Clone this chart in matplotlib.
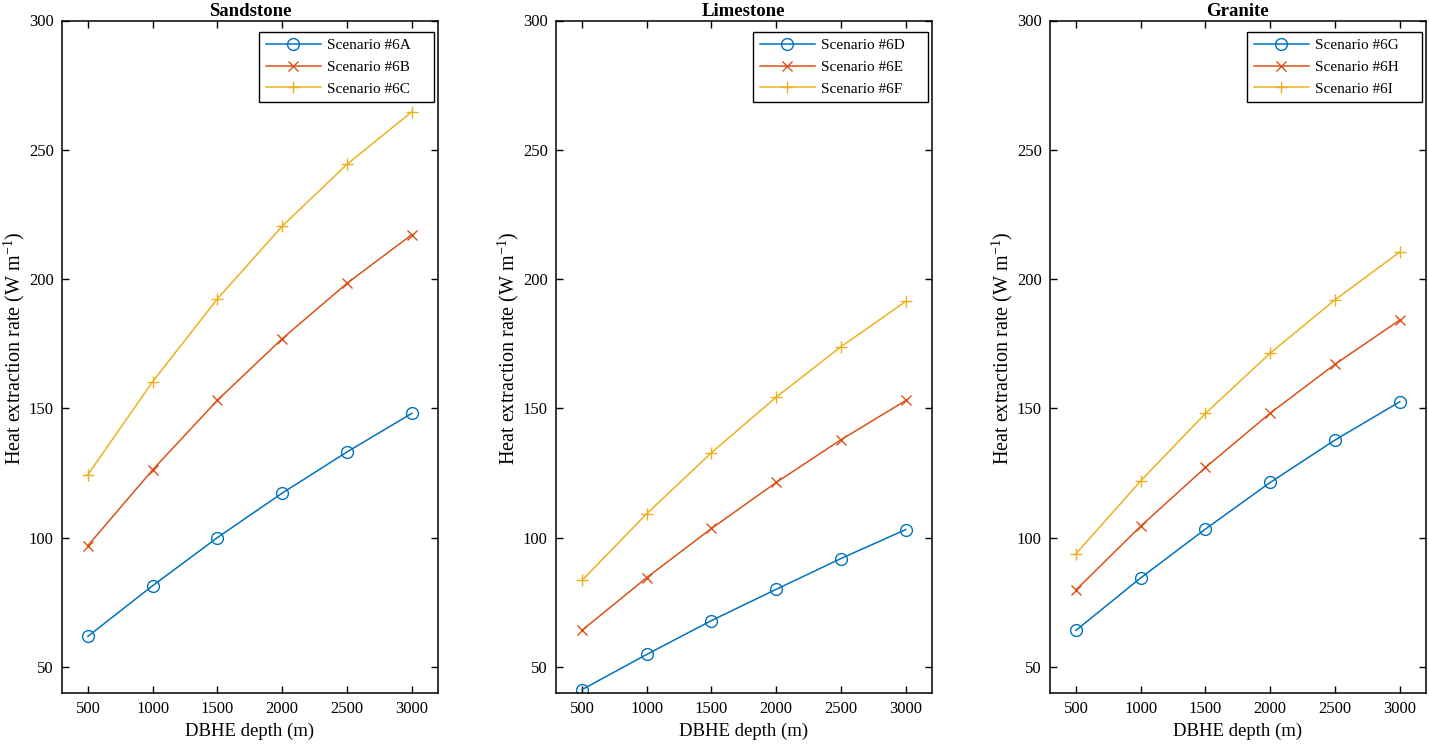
import matplotlib
matplotlib.use("Agg")
import matplotlib.pyplot as plt

plt.rcParams['font.family'] = ['Liberation Serif', 'DejaVu Serif']
plt.rcParams['mathtext.fontset'] = 'custom'
plt.rcParams['mathtext.rm'] = 'Liberation Serif'
plt.rcParams['mathtext.it'] = 'Liberation Serif:italic'
plt.rcParams['mathtext.default'] = 'regular'

depth = [500, 1000, 1500, 2000, 2500, 3000]

titles = ["Sandstone", "Limestone", "Granite"]

sandstone_labels = ["Scenario #6A", "Scenario #6B", "Scenario #6C"]
sandstone_6A = [61.9, 81.5, 100.1, 117.3, 133.2, 148.1]
sandstone_6B = [97.0, 126.3, 153.2, 177.0, 198.4, 217.2]
sandstone_6C = [124.4, 160.4, 192.4, 220.5, 244.4, 264.7]

limestone_labels = ["Scenario #6D", "Scenario #6E", "Scenario #6F"]
limestone_6D = [41.3, 54.9, 68.0, 80.1, 92.0, 103.2]
limestone_6E = [64.2, 84.6, 103.6, 121.4, 137.9, 153.1]
limestone_6F = [83.5, 109.3, 132.9, 154.4, 173.9, 191.4]

granite_labels = ["Scenario #6G", "Scenario #6H", "Scenario #6I"]
granite_6G = [64.2, 84.5, 103.4, 121.4, 137.8, 152.6]
granite_6H = [79.8, 104.5, 127.2, 148.2, 167.1, 184.2]
granite_6I = [93.8, 122.0, 148.1, 171.4, 192.0, 210.5]

panels = [
    (sandstone_labels, [sandstone_6A, sandstone_6B, sandstone_6C]),
    (limestone_labels, [limestone_6D, limestone_6E, limestone_6F]),
    (granite_labels, [granite_6G, granite_6H, granite_6I]),
]

colors = ['#0072BD', '#D95319', '#EDB120']
markers = ['o', 'x', '+']
msizes = [8.5, 7, 9]

W, H = 1429, 745
fig = plt.figure(figsize=(W / 100, H / 100), dpi=100)
lefts = [62, 556, 1050]
ax_w = 375.7
ax_b = 745 - 693
ax_h = 693 - 20.5

leg_x0 = (259.3 - 62) / ax_w
leg_w = 175 / ax_w
leg_top = 1 - (32.3 - 20.5) / ax_h

for i, (labels, series) in enumerate(panels):
    ax = fig.add_axes([lefts[i] / W, ax_b / H, ax_w / W, ax_h / H])
    for j, (lab, vals) in enumerate(zip(labels, series)):
        ax.plot(depth, vals, color=colors[j], marker=markers[j], markersize=msizes[j],
                markerfacecolor='none', markeredgecolor=colors[j], markeredgewidth=1.0,
                linewidth=1.1, label=lab)
    ax.set_xlim(300, 3200)
    ax.set_ylim(40, 300)
    ax.set_xticks(depth)
    ax.set_yticks([50, 100, 150, 200, 250, 300])
    ax.tick_params(direction='in', length=5, width=1.0, top=True, right=True,
                   labelsize=12, pad=6, colors='black')
    for s in ax.spines.values():
        s.set_linewidth(1.1)
    ax.set_title(titles[i], fontsize=13.5, fontweight='bold', pad=3)
    ax.set_xlabel("DBHE depth (m)", fontsize=13.5, labelpad=4)
    ax.set_ylabel("Heat extraction rate (W m$^{-1}$)", fontsize=14.5)
    ax.yaxis.set_label_coords((27 - 62) / ax_w, 0.512)
    leg = ax.legend(loc='upper left', bbox_to_anchor=(leg_x0, leg_top - 0.1, leg_w, 0.1),
                    mode='expand', borderaxespad=0, fontsize=11, fancybox=False,
                    edgecolor='black', framealpha=1, handlelength=3.6, labelspacing=0.52,
                    borderpad=0.42, handletextpad=0.4)
    leg.get_frame().set_linewidth(1.0)

fig.savefig("out.png", dpi=100)
